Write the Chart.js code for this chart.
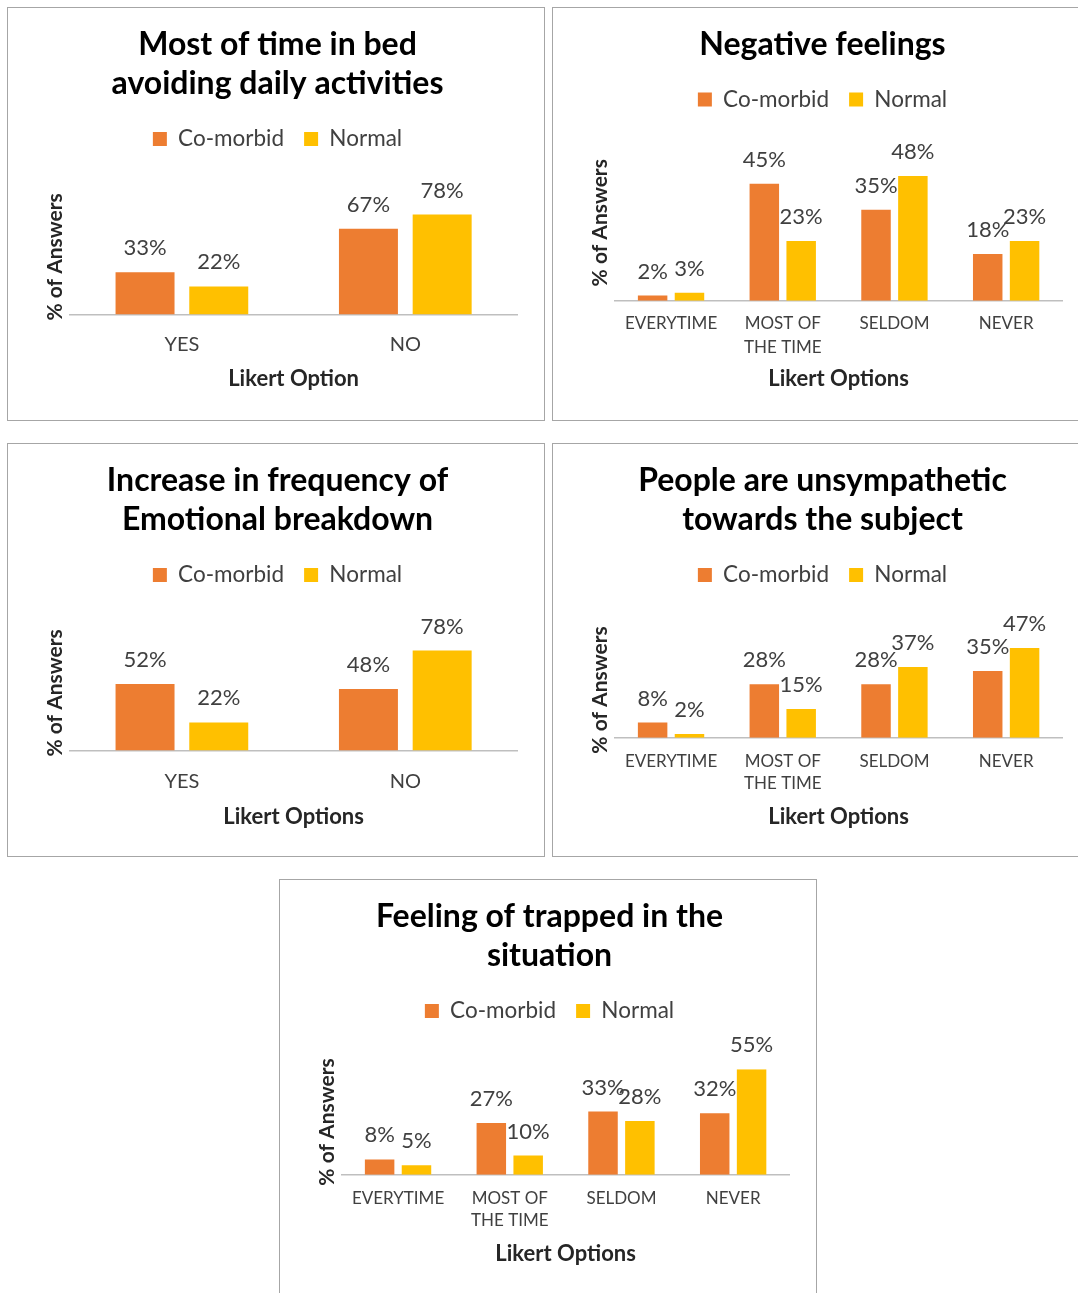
<!DOCTYPE html>
<html>
<head>
<meta charset="utf-8">
<script src="https://cdn.jsdelivr.net/npm/chart.js@4"></script>
<style>
  html, body { margin: 0; padding: 0; background: #fff; overflow: hidden; }
  body { width: 1078px; height: 1293px; position: relative; }
  .panel { position: absolute; width: 536px; height: 412px; border: 1px solid #a6a6a6; background: #fff; }
  .panel canvas { display: block; }
</style>
</head>
<body>
<div class="panel" style="left:7px; top:7px;"><canvas id="bedChart"></canvas></div>
<div class="panel" style="left:552px; top:7px;"><canvas id="negativeChart"></canvas></div>
<div class="panel" style="left:7px; top:443px;"><canvas id="breakdownChart"></canvas></div>
<div class="panel" style="left:552px; top:443px;"><canvas id="unsympatheticChart"></canvas></div>
<div class="panel" style="left:279px; top:879px; height:420px;"><canvas id="trappedChart"></canvas></div>

<script>
const yesNoOptions = ['YES', 'NO'];
const likertOptions = ['EVERYTIME', ['MOST OF', 'THE TIME'], 'SELDOM', 'NEVER'];

const bedComorbid = [33, 67];
const bedNormal = [22, 78];

const negativeComorbid = [2, 45, 35, 18];
const negativeNormal = [3, 23, 48, 23];

const breakdownComorbid = [52, 48];
const breakdownNormal = [22, 78];

const unsympatheticComorbid = [8, 28, 28, 35];
const unsympatheticNormal = [2, 15, 37, 47];

const trappedComorbid = [8, 27, 33, 32];
const trappedNormal = [5, 10, 28, 55];

const FONT = 'Lato';
const ORANGE = '#ED7D31';
const YELLOW = '#FFC000';

// percent labels above each bar
const barValueLabels = {
  id: 'barValueLabels',
  afterDatasetsDraw(chart) {
    const ctx = chart.ctx;
    ctx.save();
    ctx.font = '22px ' + FONT;
    ctx.fillStyle = '#404040';
    ctx.textAlign = 'center';
    ctx.textBaseline = 'middle';
    chart.data.datasets.forEach((ds, i) => {
      chart.getDatasetMeta(i).data.forEach((bar, j) => {
        ctx.fillText(ds.data[j] + '%', bar.x, bar.y - 24);
      });
    });
    ctx.restore();
  }
};

// extra space between legend and plot area
const legendGap = {
  id: 'legendGap',
  beforeInit(chart, args, opts) {
    const fit = chart.legend.fit;
    chart.legend.fit = function () {
      fit.call(this);
      this.height += opts.gap || 0;
    };
  }
};

function createChart(id, title, labels, comorbid, normal, opts) {
  const multiLine = labels.some(l => Array.isArray(l));
  return new Chart(document.getElementById(id), {
    type: 'bar',
    data: {
      labels,
      datasets: [
        { label: 'Co-morbid', data: comorbid, backgroundColor: ORANGE },
        { label: 'Normal', data: normal, backgroundColor: YELLOW }
      ]
    },
    options: {
      responsive: true,
      maintainAspectRatio: false,
      animation: false,
      datasets: {
        bar: { barPercentage: 0.8, categoryPercentage: 0.66 }
      },
      layout: {
        padding: { left: 30, right: 27, top: 0, bottom: opts.bottom }
      },
      plugins: {
        title: {
          display: true,
          text: title,
          color: '#000',
          font: { family: FONT, size: 32, weight: 'bold', lineHeight: 1.23 },
          padding: { top: 17, bottom: 4 }
        },
        legend: {
          display: true,
          position: 'top',
          labels: {
            boxWidth: 14,
            boxHeight: 14,
            padding: 20,
            color: '#404040',
            font: { family: FONT, size: 22.5 }
          }
        },
        legendGap: { gap: opts.gap },
        tooltip: { enabled: false }
      },
      scales: {
        x: {
          grid: { display: false, drawTicks: false },
          border: { display: true, color: '#bfbfbf', width: 1.5 },
          ticks: {
            color: '#404040',
            padding: opts.tickPad,
            maxRotation: 0,
            autoSkip: false,
            font: multiLine
              ? { family: FONT, size: 17, lineHeight: opts.tickLine }
              : { family: FONT, size: 20 }
          },
          title: {
            display: true,
            text: opts.xTitle,
            color: '#262626',
            font: { family: FONT, size: 22, weight: 'bold' },
            padding: { top: opts.titlePad, bottom: 0 }
          }
        },
        y: {
          min: 0,
          max: opts.yMax,
          grid: { display: false, drawTicks: false },
          border: { display: false },
          ticks: { display: false },
          title: {
            display: true,
            text: '% of Answers',
            color: '#262626',
            font: { family: FONT, size: 21, weight: 'bold' },
            padding: { top: 5, bottom: 2 }
          }
        }
      }
    },
    plugins: [barValueLabels, legendGap]
  });
}

createChart('bedChart', ['Most of time in bed', 'avoiding daily activities'],
  yesNoOptions, bedComorbid, bedNormal,
  { xTitle: 'Likert Option', yMax: 90, gap: 39, bottom: 28, tickPad: 18, titlePad: -9 });

createChart('negativeChart', 'Negative feelings',
  likertOptions, negativeComorbid, negativeNormal,
  { xTitle: 'Likert Options', yMax: 60, gap: 24, bottom: 28, tickPad: 11, tickLine: 1.41, titlePad: -5 });

createChart('breakdownChart', ['Increase in frequency of', 'Emotional breakdown'],
  yesNoOptions, breakdownComorbid, breakdownNormal,
  { xTitle: 'Likert Options', yMax: 90, gap: 39, bottom: 26, tickPad: 19, titlePad: -9 });

createChart('unsympatheticChart', ['People are unsympathetic', 'towards the subject'],
  likertOptions, unsympatheticComorbid, unsympatheticNormal,
  { xTitle: 'Likert Options', yMax: 50, gap: 46, bottom: 26, tickPad: 13, tickLine: 1.29, titlePad: -4 });

createChart('trappedChart', ['Feeling of trapped in the', 'situation'],
  likertOptions, trappedComorbid, trappedNormal,
  { xTitle: 'Likert Options', yMax: 55, gap: 37, bottom: 33, tickPad: 13, tickLine: 1.29, titlePad: -4 });
</script>
</body>
</html>
